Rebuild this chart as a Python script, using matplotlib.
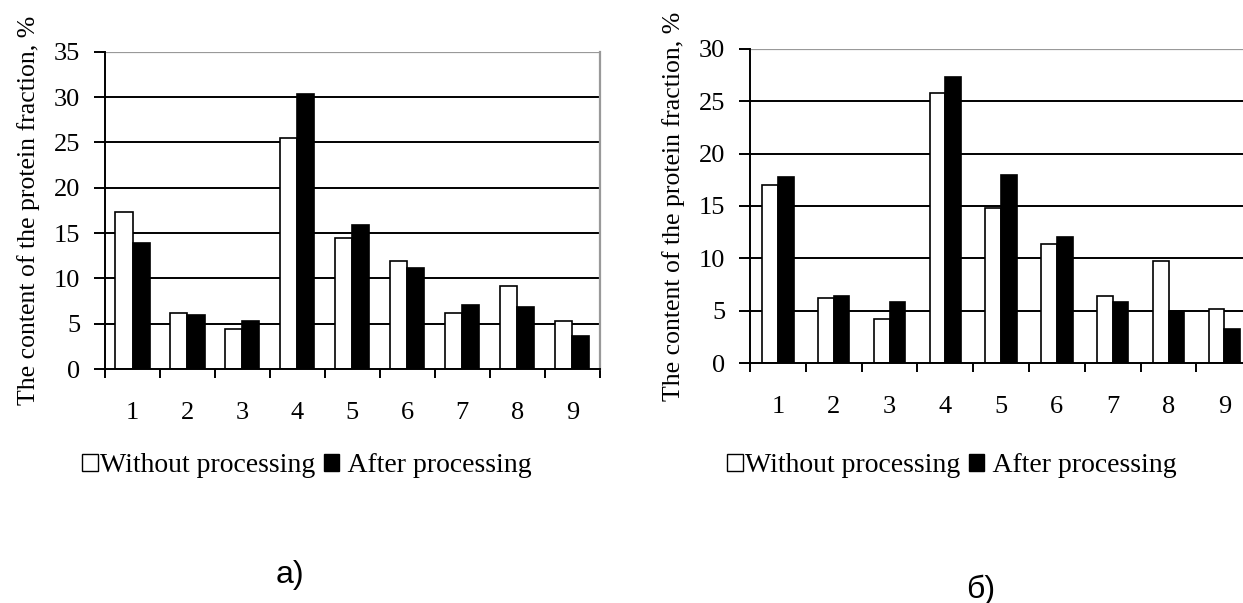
import numpy as np
import matplotlib.pyplot as plt
from matplotlib.patches import Patch

# Номера фракций и содержание белковой фракции, %
fractions = ['1', '2', '3', '4', '5', '6', '7', '8', '9']

# a)
without_a = [17.3, 6.2, 4.4, 25.5, 14.5, 11.9, 6.2, 9.2, 5.3]
after_a = [13.9, 6.0, 5.3, 30.3, 15.9, 11.2, 7.1, 6.9, 3.6]

# б)
without_b = [17.0, 6.2, 4.2, 25.8, 14.8, 11.4, 6.4, 9.7, 5.2]
after_b = [17.8, 6.4, 5.8, 27.3, 18.0, 12.0, 5.8, 5.0, 3.2]

ylabel = 'The content of the protein fraction, %'
legend_labels = ['Without processing', ' After processing']

plt.rcParams['font.family'] = ['Liberation Serif', 'DejaVu Serif']


def draw_panel(ax, without, after, ymax, bar_w, label_pad):
    x = np.arange(1, len(fractions) + 1)
    for y in range(5, ymax, 5):
        ax.axhline(y, color='black', linewidth=1.4, zorder=1)
    ax.axhline(ymax, color='#999999', linewidth=1.6, zorder=1)
    ax.bar(x - bar_w / 2, without, bar_w, color='white', edgecolor='black',
           linewidth=1.2, zorder=2)
    ax.bar(x + bar_w / 2, after, bar_w, color='black', edgecolor='black',
           linewidth=1.2, zorder=2)
    ax.set_xlim(0.5, len(fractions) + 0.5)
    ax.set_ylim(0, ymax)
    ax.set_yticks(range(0, ymax + 1, 5))
    ax.set_xticks(x)
    ax.set_xticklabels(fractions)
    ax.set_xticks(np.arange(0.5, len(fractions) + 1), minor=True)
    ax.tick_params(axis='x', which='major', length=0, pad=label_pad, labelsize=19)
    ax.tick_params(axis='x', which='minor', length=6.5, width=1.4, direction='out')
    ax.tick_params(axis='y', length=8, width=1.4, direction='out', pad=10, labelsize=19)
    ax.spines['top'].set_visible(False)
    ax.spines['right'].set_color('#999999')
    ax.spines['right'].set_linewidth(1.6)
    for s in ['left', 'bottom']:
        ax.spines[s].set_linewidth(1.4)
        ax.spines[s].set_zorder(3)
    ax.set_ylabel(ylabel, fontsize=18.5, labelpad=10)


fig = plt.figure(figsize=(12.43, 6.03), dpi=100)

ax1 = fig.add_axes([0.0845, 0.388, 0.398, 0.526])
draw_panel(ax1, without_a, after_a, 35, 0.31, 24)

ax2 = fig.add_axes([0.6034, 0.398, 0.404, 0.521])
draw_panel(ax2, without_b, after_b, 30, 0.28, 24)

handles = [Patch(facecolor='white', edgecolor='black', linewidth=1.0),
           Patch(facecolor='black', edgecolor='black')]
for xpos in [0.055, 0.574]:
    fig.legend(handles, legend_labels, loc='center left', bbox_to_anchor=(xpos, 0.228),
               ncol=2, frameon=False, fontsize=20, handlelength=0.55, handleheight=0.55,
               handletextpad=0.1, columnspacing=0.3, borderpad=0)

fig.text(0.233, 0.047, 'а)', fontsize=23, family='Liberation Sans', ha='center', va='center')
fig.text(0.789, 0.022, 'б)', fontsize=23, family='Liberation Sans', ha='center', va='center')

fig.savefig('out.png', dpi=100)
